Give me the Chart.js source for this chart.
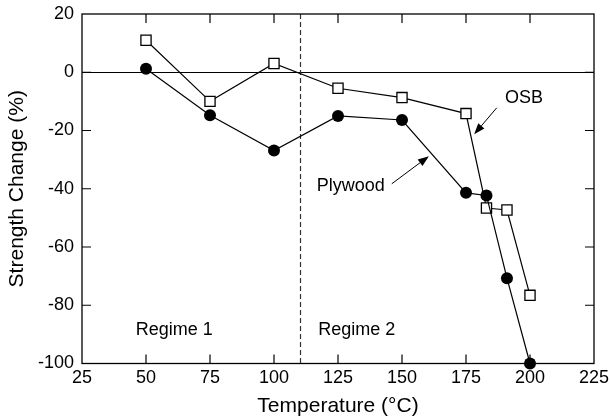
<!DOCTYPE html>
<html>
<head>
<meta charset="utf-8">
<script src="https://cdn.jsdelivr.net/npm/chart.js@4.4.0/dist/chart.umd.min.js"></script>
<style>
html,body{margin:0;padding:0;background:#fff;}
#wrap{width:610px;height:419px;}
</style>
</head>
<body>
<div id="wrap"><canvas id="c" width="610" height="419"></canvas></div>
<script>
const temperatures = [50, 75, 100, 125, 150, 175, 183, 191, 200];
const osbValues = [11, -10, 3, -5.5, -8.7, -14.2, -46.6, -47.3, -76.6];
const plywoodValues = [1.2, -14.8, -26.9, -15, -16.4, -41.4, -42.3, -70.7, -100];
const xTickValues = [25, 50, 75, 100, 125, 150, 175, 200, 225];
const yTickValues = [-100, -80, -60, -40, -20, 0, 20];
const seriesNames = ['OSB', 'Plywood'];
const regimeLabels = ['Regime 1', 'Regime 2'];
const regimeBoundary = 110;

const FONT = '"Liberation Sans", Arial, Helvetica, sans-serif';

const osbData = temperatures.map((t, i) => ({x: t, y: osbValues[i]}));
const plyData = temperatures.map((t, i) => ({x: t, y: plywoodValues[i]}));

const decorPlugin = {
  id: 'decor',
  beforeDatasetsDraw(chart) {
    const {ctx, chartArea: a, scales: {x, y}} = chart;
    ctx.save();
    const y0 = Math.round(y.getPixelForValue(0)) + 0.5;
    ctx.strokeStyle = '#000';
    ctx.lineWidth = 1.2;
    ctx.beginPath();
    ctx.moveTo(a.left, y0); ctx.lineTo(a.right, y0);
    ctx.stroke();
    const xb = Math.round(x.getPixelForValue(regimeBoundary)) + 0.5;
    ctx.strokeStyle = '#333';
    ctx.lineWidth = 1.2;
    ctx.setLineDash([5, 3]);
    ctx.beginPath();
    ctx.moveTo(xb, a.top); ctx.lineTo(xb, a.bottom);
    ctx.stroke();
    ctx.restore();
  },
  afterDraw(chart) {
    const {ctx, chartArea: a, scales: {x, y}} = chart;
    ctx.save();
    ctx.strokeStyle = '#000';
    ctx.lineWidth = 1.3;
    ctx.strokeRect(a.left, a.top, a.right - a.left, a.bottom - a.top);
    const tl = 9;
    ctx.lineWidth = 1.2;
    ctx.beginPath();
    xTickValues.forEach(v => {
      const px = x.getPixelForValue(v);
      if (v === x.min || v === x.max) return;
      ctx.moveTo(px, a.bottom); ctx.lineTo(px, a.bottom - tl);
      ctx.moveTo(px, a.top); ctx.lineTo(px, a.top + tl);
    });
    yTickValues.forEach(v => {
      const py = y.getPixelForValue(v);
      if (v === y.min || v === y.max) return;
      ctx.moveTo(a.left, py); ctx.lineTo(a.left + tl, py);
      ctx.moveTo(a.right, py); ctx.lineTo(a.right - tl, py);
    });
    ctx.stroke();

    ctx.fillStyle = '#000';
    ctx.font = '18px ' + FONT;
    ctx.textBaseline = 'middle';
    ctx.textAlign = 'left';
    const txt = (s, vx, vy) => ctx.fillText(s, x.getPixelForValue(vx), y.getPixelForValue(vy));
    txt(regimeLabels[0], 46, -88.6);
    txt(regimeLabels[1], 117.3, -88.4);
    txt(seriesNames[0], 190.2, -8.7);
    txt(seriesNames[1], 116.7, -39);

    const arrow = (x1, y1, x2, y2) => {
      const p1x = x.getPixelForValue(x1), p1y = y.getPixelForValue(y1);
      const p2x = x.getPixelForValue(x2), p2y = y.getPixelForValue(y2);
      const ang = Math.atan2(p2y - p1y, p2x - p1x);
      const L = 11, W = 4;
      const bx = p2x - L * Math.cos(ang), by = p2y - L * Math.sin(ang);
      ctx.lineWidth = 1;
      ctx.beginPath();
      ctx.moveTo(p1x, p1y); ctx.lineTo(bx, by);
      ctx.stroke();
      ctx.beginPath();
      ctx.moveTo(p2x, p2y);
      ctx.lineTo(bx + W * Math.sin(ang), by - W * Math.cos(ang));
      ctx.lineTo(bx - W * Math.sin(ang), by + W * Math.cos(ang));
      ctx.closePath();
      ctx.fill();
    };
    arrow(187, -12.2, 178.2, -21.3);
    arrow(146, -38.3, 160.5, -28.8);
    ctx.restore();
  }
};

new Chart(document.getElementById('c'), {
  type: 'line',
  data: {
    datasets: [
      {
        label: seriesNames[1],
        data: plyData,
        borderColor: '#000',
        borderWidth: 1.2,
        backgroundColor: '#000',
        pointStyle: 'circle',
        pointRadius: 6,
        pointBorderWidth: 0,
        pointBackgroundColor: '#000',
        tension: 0,
        clip: false
      },
      {
        label: seriesNames[0],
        data: osbData,
        borderColor: '#000',
        borderWidth: 1.2,
        pointStyle: 'rect',
        pointRadius: 7.2,
        pointBorderWidth: 1.3,
        pointBorderColor: '#000',
        pointBackgroundColor: '#fff',
        tension: 0,
        clip: false
      }
    ]
  },
  options: {
    responsive: false,
    animation: false,
    devicePixelRatio: 1,
    layout: {padding: {top: 14, right: 16, left: 0, bottom: 0}},
    plugins: {legend: {display: false}, tooltip: {enabled: false}},
    scales: {
      x: {
        type: 'linear',
        min: 25, max: 225,
        afterBuildTicks: s => { s.ticks = xTickValues.map(v => ({value: v})); },
        afterFit: s => { s.height = 55.5; s.paddingLeft = 0; s.paddingRight = 0; },
        grid: {display: false, drawTicks: false},
        border: {display: false},
        ticks: {color: '#000', font: {family: FONT, size: 18}, padding: 4, maxRotation: 0, autoSkip: false},
        title: {display: true, text: 'Temperature (°C)', color: '#000', font: {family: FONT, size: 21}, padding: {top: 1, bottom: 0}}
      },
      y: {
        type: 'linear',
        min: -100, max: 20,
        afterBuildTicks: s => { s.ticks = yTickValues.map(v => ({value: v})); },
        afterFit: s => { s.width = 82; s.paddingTop = 0; s.paddingBottom = 0; },
        grid: {display: false, drawTicks: false},
        border: {display: false},
        ticks: {color: '#000', font: {family: FONT, size: 18}, padding: 8, autoSkip: false},
        title: {display: true, text: 'Strength Change (%)', color: '#000', font: {family: FONT, size: 21}, padding: {top: 5, bottom: 4}}
      }
    }
  },
  plugins: [decorPlugin]
});
</script>
</body>
</html>
